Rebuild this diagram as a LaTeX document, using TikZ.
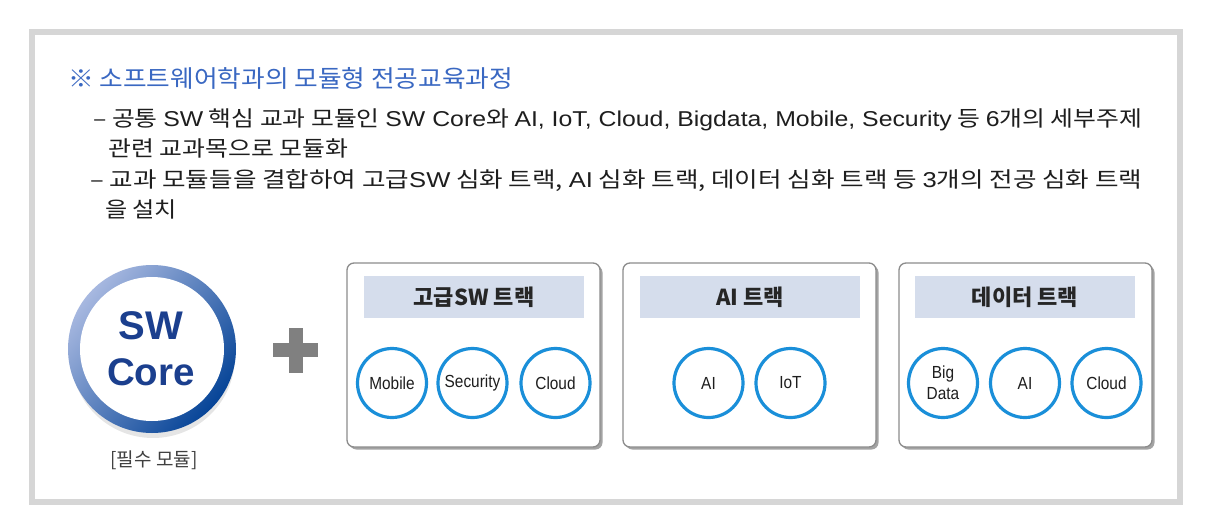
\documentclass[tikz,border=0pt]{standalone}
\usepackage{fontspec}
\usepackage{graphicx}
\setmainfont{Noto Sans CJK KR}
\newfontfamily\latn{Liberation Sans}[FakeStretch=0.88]
\newfontfamily\latb{Liberation Sans}
\newcommand{\lt}[1]{{\latb #1}}
\usetikzlibrary{shadows}
\definecolor{framegray}{HTML}{D6D6D6}
\definecolor{titleblue}{HTML}{3A68C2}
\definecolor{txt}{HTML}{1E1E1E}
\definecolor{hdr}{HTML}{D5DDEC}
\definecolor{modring}{HTML}{1A8FD9}
\definecolor{navy}{HTML}{1B3F8E}
\definecolor{boxline}{HTML}{8C8C8C}
\definecolor{plusgray}{HTML}{808080}
\definecolor{ringlight}{HTML}{A7B8E0}
\definecolor{ringmid}{HTML}{2C5BAE}
\definecolor{ringdark}{HTML}{064497}
\begin{document}
\begin{tikzpicture}[x=1pt,y=-1pt,
  bodyline/.style={anchor=base west, inner sep=0pt, text=txt, font=\fontsize{21.5}{24}\selectfont},
  track/.style={draw=boxline, line width=1.3pt, fill=white, rounded corners=7pt,
    minimum width=253pt, minimum height=184pt,
    drop shadow={shadow xshift=2.5pt, shadow yshift=-2.5pt, fill=black!45, opacity=0.8}},
  hdrband/.style={fill=hdr, draw=none, minimum width=220pt, minimum height=42pt, inner sep=0pt,
    font=\fontsize{22}{26}\selectfont\bfseries, text=black!85},
  mod/.style={circle, draw=modring, line width=3.2pt, fill=white, minimum size=69pt, inner sep=0pt,
    font=\latn\fontsize{17.5}{21}\selectfont, text=txt, align=center}
]
\useasboundingbox (0,0) rectangle (1224,530);
\fill[white] (0,0) rectangle (1224,530);
\draw[framegray, line width=6pt] (32,32) rectangle (1180,502);

% texts
\node[bodyline, text=titleblue, font=\fontsize{24}{26}\selectfont] (title) at (68,87)
  {\resizebox{445pt}{\height}{※ 소프트웨어학과의 모듈형 전공교육과정}};
\node[bodyline] (l1) at (93,126)
  {\resizebox{1049pt}{\height}{– 공통 \lt{SW} 핵심 교과 모듈인 \lt{SW Core}와 \lt{AI, IoT, Cloud, Bigdata, Mobile, Security} 등 \lt{6}개의 세부주제}};
\node[bodyline] (l1b) at (108,156)
  {\resizebox{240pt}{\height}{관련 교과목으로 모듈화}};
\node[bodyline] (l2) at (90,187)
  {\resizebox{1052pt}{\height}{– 교과 모듈들을 결합하여 고급\lt{SW} 심화 트랙, \lt{AI} 심화 트랙, 데이터 심화 트랙 등 \lt{3}개의 전공 심화 트랙}};
\node[bodyline] (l2b) at (105,217)
  {\resizebox{72pt}{\height}{을 설치}};

% SW Core
\coordinate (cc) at (152,349);
\fill[black, opacity=0.10] (153,356) circle (82);
\shade[top color=ringlight, middle color=ringmid, bottom color=ringdark, shading angle=50] (cc) circle (84);
\fill[white] (cc) circle (72);
\node[font=\latb\bfseries\fontsize{40}{40}\selectfont, text=navy, inner sep=0pt] (sw) at (151,326) {SW};
\node[font=\latb\bfseries\fontsize{38.5}{40}\selectfont, text=navy, inner sep=0pt] (core) at (151,372) {Core};
\node[font=\fontsize{19}{20}\selectfont, text=black!75, inner sep=0pt] (req) at (154,460) {[필수 모듈]};

% plus
\fill[plusgray] (273,343) rectangle (318,357);
\fill[plusgray] (289,327.5) rectangle (303,372.5);

% tracks
\node[track] (t1) at (473.5,355) {};
\node[track] (t2) at (749.5,355) {};
\node[track] (t3) at (1025.5,355) {};
\node[hdrband] (h1) at (474,297) {고급SW 트랙};
\node[hdrband] (h2) at (750,297) {AI 트랙};
\node[hdrband] (h3) at (1025,297) {데이터 트랙};

\node[mod] (m1) at (392,383) {Mobile};
\node[mod] (m2) at (472.5,383) {Security};
\node[mod] (m3) at (555.5,383) {Cloud};
\node[mod] (a1) at (708.5,383) {AI};
\node[mod] (a2) at (790.5,383) {IoT};
\node[mod] (d1) at (943,383) {Big\\Data};
\node[mod] (d2) at (1025,383) {AI};
\node[mod] (d3) at (1106.5,383) {Cloud};
\end{tikzpicture}
\end{document}
